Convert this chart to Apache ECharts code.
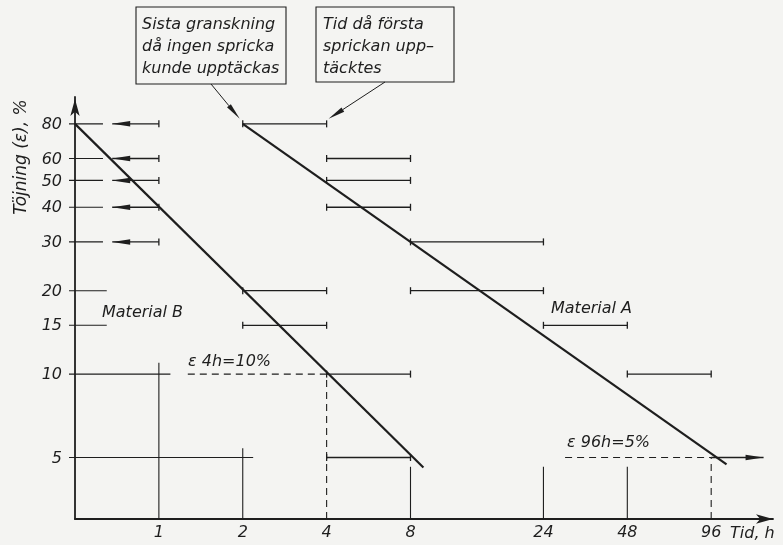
<!DOCTYPE html>
<html>
<head>
<meta charset="utf-8">
<script src="https://cdn.jsdelivr.net/npm/echarts@6/dist/echarts.min.js"></script>
<style>
html, body { margin: 0; padding: 0; background: #f4f4f2; }
#chart { width: 783px; height: 545px; }
</style>
</head>
<body>
<div id="chart"></div>
<script>
// tidsaxel (h) och töjningsaxel (%)
var timeTicks = [1, 2, 4, 8, 24, 48, 96];
var timeTickTop = [11, 5.4, 10, 4.63, 4.63, 4.63, 5];   // hur högt strecket går
var timeTickDashed = [0, 0, 1, 0, 0, 0, 1];
var strainTicks = [80, 60, 50, 40, 30, 20, 15, 10, 5];
var strainTickEnd = [0.63, 0.63, 0.63, 0.63, 0.63, 0.65, 0.65, 1.1, 2.18];

// [töjning, sista granskning utan spricka, första spricka, pil (-1 vänster, 1 höger, 0 ingen)]
var materialB = [
  [80, 0.68, 1, -1], [60, 0.68, 1, -1], [50, 0.68, 1, -1], [40, 0.68, 1, -1], [30, 0.68, 1, -1],
  [20, 2, 4, 0], [15, 2, 4, 0], [10, 4, 8, 0], [5, 4, 8, 0]
];
var materialA = [
  [80, 2, 4, 0], [60, 4, 8, 0], [50, 4, 8, 0], [40, 4, 8, 0], [30, 8, 24, 0],
  [20, 8, 24, 0], [15, 24, 48, 0], [10, 48, 96, 0], [5, 96, 148, 1]
];

// anpassade linjer
var lineB = [[0.5, 80], [8.9, 4.6]];
var lineA = [[2, 80], [109, 4.72]];

// streckade hjälplinjer: [töjning, från, till]
var epsLines = [[10, 1.27, 4], [5, 28.7, 96]];

var INK = '#1e1e1e';
var FONT = 'italic 16px "DejaVu Sans"';
var X_MIN = 0.5, Y_MIN = 3;

var chart = echarts.init(document.getElementById('chart'));

function arrowHead(tip, dir, len, w) {
  // dir: -1 pekar vänster, 1 pekar höger
  return {
    type: 'polygon',
    shape: { points: [tip, [tip[0] - dir * len, tip[1] - w / 2], [tip[0] - dir * len, tip[1] + w / 2]] },
    style: { fill: INK }
  };
}

function renderRange(params, api) {
  var y = api.value(0), x0 = api.value(1), x1 = api.value(2), dir = api.value(3);
  var p0 = api.coord([x0, y]), p1 = api.coord([x1, y]);
  var st = { stroke: INK, lineWidth: 1.3 };
  var kids = [{ type: 'line', shape: { x1: p0[0], y1: p0[1], x2: p1[0], y2: p1[1] }, style: st }];
  if (dir === 0) kids.push({ type: 'line', shape: { x1: p0[0], y1: p0[1] - 3.5, x2: p0[0], y2: p0[1] + 3.5 }, style: st });
  if (dir !== 1) kids.push({ type: 'line', shape: { x1: p1[0], y1: p1[1] - 3.5, x2: p1[0], y2: p1[1] + 3.5 }, style: st });
  if (dir === -1) kids.push(arrowHead(p0, -1, 18, 5.5));
  if (dir === 1) kids.push(arrowHead(p1, 1, 18, 5.5));
  return { type: 'group', children: kids };
}

var timeData = timeTicks.map(function (t, i) { return [t, timeTickTop[i], timeTickDashed[i]]; });
var strainData = strainTicks.map(function (s, i) { return [strainTickEnd[i], s]; });

var option = {
  backgroundColor: '#f4f4f2',
  animation: false,
  grid: { left: 75, right: 10, top: 97, bottom: 26 },
  xAxis: {
    type: 'log', logBase: 2, min: X_MIN, max: 160,
    axisLine: { lineStyle: { color: INK, width: 1.8 }, symbol: ['none', 'arrow'], symbolSize: [7, 17], symbolOffset: [0, 0] },
    axisTick: { show: false }, axisLabel: { show: false }, splitLine: { show: false }
  },
  yAxis: {
    type: 'log', logBase: 10, min: Y_MIN, max: 100,
    axisLine: { lineStyle: { color: INK, width: 1.8 }, symbol: ['none', 'arrow'], symbolSize: [7, 17], symbolOffset: [0, -2] },
    axisTick: { show: false }, axisLabel: { show: false }, splitLine: { show: false }
  },
  series: [
    {
      // vertikala streck + tidsetiketter
      type: 'custom', clip: false, data: timeData, encode: { x: 0, y: 1 },
      renderItem: function (params, api) {
        var t = api.value(0);
        var b = api.coord([t, Y_MIN]), top = api.coord([t, api.value(1)]);
        return {
          type: 'group', children: [
            { type: 'line', shape: { x1: b[0], y1: b[1], x2: top[0], y2: top[1] },
              style: { stroke: INK, lineWidth: 1.1, lineDash: api.value(2) ? [7, 5] : null } },
            { type: 'text', x: b[0], y: b[1] + 14,
              style: { text: String(t), font: FONT, fill: INK, align: 'center', verticalAlign: 'middle' } }
          ]
        };
      }
    },
    {
      // horisontella streck + töjningsetiketter
      type: 'custom', clip: false, data: strainData, encode: { x: 0, y: 1 },
      renderItem: function (params, api) {
        var s = api.value(1);
        var a = api.coord([X_MIN, s]), e = api.coord([api.value(0), s]);
        return {
          type: 'group', children: [
            { type: 'line', shape: { x1: a[0] - 6, y1: a[1], x2: e[0], y2: e[1] }, style: { stroke: INK, lineWidth: 1.1 } },
            { type: 'text', x: a[0] - 13, y: a[1] + 1,
              style: { text: String(s), font: FONT, fill: INK, align: 'right', verticalAlign: 'middle' } }
          ]
        };
      }
    },
    {
      type: 'custom', clip: false, data: epsLines, encode: { x: [1, 2], y: 0 },
      renderItem: function (params, api) {
        var p0 = api.coord([api.value(1), api.value(0)]), p1 = api.coord([api.value(2), api.value(0)]);
        return { type: 'line', shape: { x1: p0[0], y1: p0[1], x2: p1[0], y2: p1[1] },
          style: { stroke: INK, lineWidth: 1.1, lineDash: [7, 5] } };
      }
    },
    { name: 'Material B', type: 'custom', clip: false, data: materialB, encode: { x: [1, 2], y: 0 }, renderItem: renderRange },
    { name: 'Material A', type: 'custom', clip: false, data: materialA, encode: { x: [1, 2], y: 0 }, renderItem: renderRange },
    { type: 'line', data: lineB, symbol: 'none', lineStyle: { color: INK, width: 2.2 } },
    { type: 'line', data: lineA, symbol: 'none', lineStyle: { color: INK, width: 2.2 } }
  ]
};
chart.setOption(option);

// förklaringsrutor med pilar mot mätpunkterna
function pointer(from, to) {
  var dx = to[0] - from[0], dy = to[1] - from[1], d = Math.sqrt(dx * dx + dy * dy);
  var ux = dx / d, uy = dy / d, L = 17, W = 5;
  var bx = to[0] - ux * L, by = to[1] - uy * L;
  return [
    { type: 'line', shape: { x1: from[0], y1: from[1], x2: bx, y2: by }, style: { stroke: INK, lineWidth: 1 } },
    { type: 'polygon', shape: { points: [to, [bx - uy * W / 2, by + ux * W / 2], [bx + uy * W / 2, by - ux * W / 2]] }, style: { fill: INK } }
  ];
}
var pLast = chart.convertToPixel({ gridIndex: 0 }, [2, 80]);
var pFirst = chart.convertToPixel({ gridIndex: 0 }, [4, 80]);

var txt = function (x, y, s, extra) {
  var o = { type: 'text', x: x, y: y, style: { text: s, font: FONT, fill: INK, lineHeight: 22 } };
  if (extra) for (var k in extra) o[k] = extra[k];
  return o;
};

var graphics = [
  { type: 'rect', shape: { x: 136, y: 7, width: 150, height: 77 }, style: { fill: 'none', stroke: INK, lineWidth: 1.1 } },
  txt(142, 14, 'Sista granskning\ndå ingen spricka\nkunde upptäckas'),
  { type: 'rect', shape: { x: 316, y: 7, width: 138, height: 75 }, style: { fill: 'none', stroke: INK, lineWidth: 1.1 } },
  txt(323, 14, 'Tid då första\nsprickan upp–\ntäcktes'),
  txt(102, 302, 'Material B'),
  txt(551, 298, 'Material A'),
  txt(188, 351, 'ε 4h=10%'),
  txt(567, 432, 'ε 96h=5%'),
  txt(730, 523, 'Tid, h'),
  { type: 'text', x: 22, y: 157, rotation: Math.PI / 2,
    style: { text: 'Töjning (ε), %', font: 'italic 17px "DejaVu Sans"', fill: INK, align: 'center', verticalAlign: 'middle' } }
];
graphics = graphics.concat(pointer([211, 84], [pLast[0] - 3, pLast[1] - 5]));
graphics = graphics.concat(pointer([385, 82], [pFirst[0] + 2, pFirst[1] - 5]));
chart.setOption({ graphic: graphics });
</script>
</body>
</html>
